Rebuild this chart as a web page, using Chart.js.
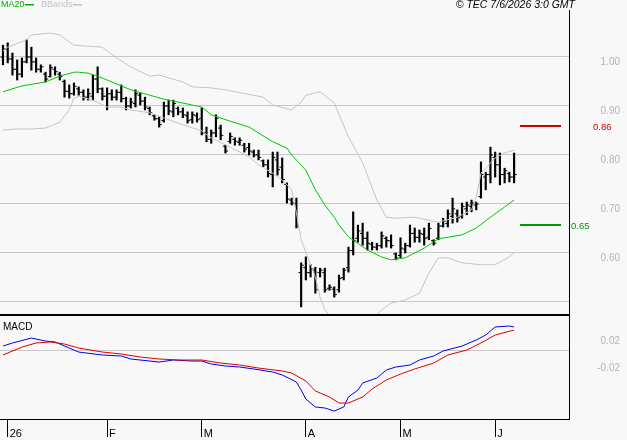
<!DOCTYPE html>
<html>
<head>
<meta charset="utf-8">
<script src="https://cdn.jsdelivr.net/npm/chart.js@4/dist/chart.umd.min.js"></script>
<style>
    body { margin: 0; background: #f8f8f8; }
    #wrap { position: relative; width: 627px; height: 440px; background: #f8f8f8; overflow: hidden; }
    #priceChart { position: absolute; left: 0; top: 0; }
    #macdChart { position: absolute; left: 0; top: 316px; }
</style>
</head>
<body>
<div id="wrap">
    <canvas id="priceChart" width="627" height="316"></canvas>
    <canvas id="macdChart" width="627" height="124"></canvas>
</div>
<script>
// Daily bars, one per trading session (index 0 = first bar of January)
const highs = [
    1.024, 1.029, 1.008, 0.994, 0.998, 1.035, 1.020, 0.998, 0.984, 0.969,
    0.984, 0.980, 0.969, 0.953, 0.943, 0.947, 0.939, 0.933, 0.935, 0.963,
    0.980, 0.937, 0.937, 0.933, 0.933, 0.943, 0.918, 0.916, 0.933, 0.927,
    0.918, 0.898, 0.882, 0.878, 0.908, 0.912, 0.912, 0.898, 0.896, 0.888,
    0.888, 0.886, 0.896, 0.857, 0.851, 0.882, 0.861, 0.820, 0.845, 0.835,
    0.835, 0.824, 0.824, 0.810, 0.810, 0.790, 0.790, 0.806, 0.806, 0.794,
    0.743, 0.712, 0.712, 0.580, 0.592, 0.576, 0.571, 0.569, 0.569, 0.535,
    0.531, 0.555, 0.569, 0.612, 0.684, 0.657, 0.661, 0.643, 0.622, 0.620,
    0.643, 0.633, 0.637, 0.600, 0.631, 0.620, 0.657, 0.651, 0.647, 0.651,
    0.661, 0.627, 0.661, 0.671, 0.688, 0.712, 0.688, 0.702, 0.704, 0.708,
    0.704, 0.786, 0.765, 0.816, 0.806, 0.804, 0.773, 0.765, 0.804
];
const lows = [
    0.984, 0.988, 0.963, 0.953, 0.959, 0.988, 0.973, 0.969, 0.969, 0.949,
    0.959, 0.963, 0.953, 0.918, 0.916, 0.922, 0.922, 0.912, 0.912, 0.912,
    0.927, 0.912, 0.892, 0.912, 0.912, 0.908, 0.892, 0.896, 0.898, 0.902,
    0.892, 0.882, 0.871, 0.857, 0.867, 0.882, 0.878, 0.882, 0.876, 0.865,
    0.865, 0.867, 0.841, 0.827, 0.824, 0.837, 0.831, 0.804, 0.824, 0.820,
    0.820, 0.806, 0.800, 0.796, 0.790, 0.776, 0.755, 0.735, 0.759, 0.743,
    0.702, 0.698, 0.651, 0.490, 0.545, 0.551, 0.518, 0.551, 0.520, 0.524,
    0.510, 0.520, 0.545, 0.561, 0.596, 0.622, 0.616, 0.606, 0.606, 0.606,
    0.610, 0.612, 0.610, 0.586, 0.590, 0.600, 0.612, 0.622, 0.622, 0.616,
    0.627, 0.616, 0.627, 0.653, 0.653, 0.661, 0.663, 0.671, 0.678, 0.684,
    0.688, 0.712, 0.729, 0.743, 0.755, 0.739, 0.743, 0.745, 0.743
];
const opens = [
    1.000, 1.016, 0.996, 0.975, 0.965, 0.990, 1.000, 0.990, 0.975, 0.965,
    0.960, 0.975, 0.965, 0.950, 0.930, 0.925, 0.935, 0.928, 0.918, 0.920,
    0.955, 0.935, 0.920, 0.925, 0.918, 0.928, 0.915, 0.900, 0.905, 0.922,
    0.910, 0.895, 0.880, 0.874, 0.870, 0.900, 0.888, 0.895, 0.888, 0.880,
    0.872, 0.880, 0.875, 0.845, 0.832, 0.845, 0.855, 0.818, 0.828, 0.832,
    0.826, 0.820, 0.815, 0.806, 0.800, 0.788, 0.780, 0.760, 0.790, 0.775,
    0.740, 0.708, 0.700, 0.560, 0.570, 0.560, 0.565, 0.560, 0.560, 0.528,
    0.526, 0.525, 0.550, 0.570, 0.605, 0.630, 0.640, 0.630, 0.618, 0.612,
    0.615, 0.630, 0.625, 0.598, 0.595, 0.608, 0.615, 0.640, 0.632, 0.638,
    0.632, 0.625, 0.630, 0.655, 0.660, 0.675, 0.680, 0.675, 0.690, 0.695,
    0.698, 0.715, 0.755, 0.760, 0.795, 0.780, 0.760, 0.762, 0.755
];
const closes = [
    1.016, 0.996, 0.975, 0.965, 0.990, 1.000, 0.990, 0.975, 0.980, 0.955,
    0.978, 0.970, 0.960, 0.930, 0.925, 0.940, 0.928, 0.918, 0.925, 0.955,
    0.935, 0.920, 0.925, 0.918, 0.928, 0.915, 0.900, 0.908, 0.925, 0.910,
    0.898, 0.886, 0.874, 0.862, 0.900, 0.890, 0.905, 0.888, 0.882, 0.870,
    0.882, 0.872, 0.845, 0.832, 0.845, 0.875, 0.840, 0.808, 0.838, 0.828,
    0.830, 0.812, 0.808, 0.800, 0.795, 0.780, 0.762, 0.795, 0.770, 0.750,
    0.710, 0.702, 0.655, 0.575, 0.560, 0.568, 0.525, 0.565, 0.525, 0.530,
    0.515, 0.548, 0.565, 0.605, 0.625, 0.645, 0.630, 0.620, 0.612, 0.615,
    0.635, 0.625, 0.615, 0.590, 0.610, 0.615, 0.640, 0.632, 0.640, 0.630,
    0.650, 0.620, 0.655, 0.665, 0.680, 0.690, 0.672, 0.695, 0.698, 0.702,
    0.700, 0.760, 0.760, 0.800, 0.780, 0.760, 0.768, 0.755, 0.760
];

// Indicator lines: [bar index, value]
const ma20Pts = [
    [0, 0.929], [4, 0.941], [9, 0.949], [12, 0.961], [15, 0.969], [16, 0.969], [18, 0.967],
    [20, 0.961], [23, 0.949], [27, 0.933], [31, 0.922], [34, 0.914], [37, 0.908], [42, 0.898],
    [44, 0.882], [48, 0.869], [52, 0.857], [57, 0.827], [60, 0.814], [61, 0.800], [64, 0.769],
    [66, 0.729], [68, 0.698], [70, 0.673], [71, 0.657], [73, 0.633], [77, 0.606], [80, 0.592],
    [82, 0.586], [85, 0.590], [89, 0.610], [92, 0.629], [97, 0.637], [100, 0.651], [103, 0.673],
    [106, 0.694], [108, 0.708]
];
const upperBandPts = [
    [0, 1.012], [1, 1.020], [5, 1.035], [6, 1.045], [10, 1.049], [12, 1.045], [15, 1.024],
    [21, 1.020], [24, 0.998], [27, 0.980], [31, 0.961], [33, 0.963], [38, 0.949], [40, 0.939],
    [44, 0.937], [47, 0.933], [55, 0.918], [57, 0.902], [61, 0.892], [63, 0.908], [64, 0.922],
    [67, 0.929], [70, 0.906], [73, 0.837], [76, 0.784], [79, 0.708], [81, 0.673], [83, 0.671],
    [87, 0.673], [90, 0.667], [92, 0.663], [96, 0.673], [99, 0.688], [100, 0.714], [101, 0.763],
    [104, 0.794], [106, 0.804], [108, 0.810]
];
const lowerBandPts = [
    [0, 0.851], [3, 0.853], [6, 0.853], [9, 0.855], [12, 0.867], [14, 0.892], [15, 0.916],
    [16, 0.920], [19, 0.912], [22, 0.898], [25, 0.898], [27, 0.892], [31, 0.886], [37, 0.865],
    [42, 0.849], [44, 0.835], [48, 0.816], [52, 0.796], [54, 0.780], [57, 0.763], [59, 0.749],
    [61, 0.729], [62, 0.682], [63, 0.627], [66, 0.551], [67, 0.510], [68, 0.484], [72, 0.440],
    [76, 0.445], [80, 0.484], [82, 0.498], [85, 0.504], [88, 0.518], [90, 0.559], [92, 0.590],
    [94, 0.590], [97, 0.580], [101, 0.576], [104, 0.576], [107, 0.592], [108, 0.602]
];
const macdPts = [
    [0, 0.0059], [2, 0.0104], [6, 0.0178], [9, 0.0133], [11, 0.0119], [14, 0.0030], [16, -0.0030],
    [21, -0.0074], [25, -0.0089], [27, -0.0133], [33, -0.0178], [36, -0.0148], [40, -0.0163],
    [42, -0.0163], [44, -0.0207], [47, -0.0237], [50, -0.0252], [53, -0.0281], [57, -0.0326],
    [59, -0.0370], [62, -0.0474], [63, -0.0593], [64, -0.0726], [66, -0.0844], [68, -0.0859],
    [70, -0.0904], [72, -0.0844], [73, -0.0696], [75, -0.0593], [76, -0.0489], [79, -0.0415],
    [81, -0.0296], [83, -0.0252], [86, -0.0222], [88, -0.0148], [91, -0.0089], [93, -0.0015],
    [97, 0.0059], [100, 0.0148], [102, 0.0222], [104, 0.0341], [107, 0.0356], [108, 0.0341]
];
const signalPts = [
    [0, -0.0074], [4, 0.0044], [7, 0.0104], [10, 0.0119], [13, 0.0089], [16, 0.0030], [21, -0.0030],
    [25, -0.0059], [29, -0.0104], [33, -0.0133], [37, -0.0148], [42, -0.0148], [46, -0.0193],
    [50, -0.0222], [54, -0.0267], [59, -0.0311], [61, -0.0341], [64, -0.0459], [66, -0.0607],
    [69, -0.0696], [71, -0.0785], [73, -0.0785], [76, -0.0696], [78, -0.0578], [81, -0.0444],
    [84, -0.0356], [87, -0.0281], [91, -0.0193], [94, -0.0074], [98, 0.0000], [101, 0.0104],
    [104, 0.0222], [108, 0.0296]
];

const priceTicks = [1.0, 0.9, 0.8, 0.7, 0.6, 0.5];
const priceTickLabels = ['1.00', '0.90', '0.80', '0.70', '0.60', ''];
const macdTicks = [0.02, 0, -0.02];
const macdTickLabels = ['0.02', '', '-0.02'];
const monthTickIdx = [1, 22, 42, 64, 84, 104];
const monthLabels = ['26', 'F', 'M', 'A', 'M', 'J'];
const levels = [0.86, 0.657];
const levelLabels = ['0.86', '0.65'];
const levelColors = ['#cc0000', '#009900'];

const xMin = -0.63, xMax = 119.6;

Chart.defaults.font.family = '"Liberation Sans", Arial, sans-serif';
Chart.defaults.animation = false;
Chart.defaults.responsive = false;
Chart.defaults.events = [];
Chart.defaults.plugins.legend.display = false;
Chart.defaults.plugins.tooltip.enabled = false;

const toXY = pts => pts.map(p => ({ x: p[0], y: p[1] }));

// keep the axis box a fixed size and stop label padding from shrinking the plot
function fixAxis(w, h) {
    return s => {
        if (w) s.width = w;
        if (h) s.height = h;
        s.paddingTop = 0;
        s.paddingBottom = 0;
        s.paddingLeft = 0;
        s.paddingRight = 0;
    };
}

// Legend, copyright line, bottom frame and the two level marks
const priceDecor = {
    id: 'priceDecor',
    afterDatasetsDraw(chart) {
        const ctx = chart.ctx;
        const area = chart.chartArea;
        const y = chart.scales.y;
        ctx.save();
        levels.forEach((lv, k) => {
            const py = Math.round(y.getPixelForValue(lv));
            ctx.fillStyle = levelColors[k];
            ctx.fillRect(area.right - 49, py - 1, 41, 2);
            ctx.font = '9.5px "Liberation Sans", Arial, sans-serif';
            ctx.textBaseline = 'middle';
            ctx.textAlign = 'left';
            ctx.fillText(levelLabels[k], k === 0 ? area.right + 24 : area.right + 2, py + 1);
        });
        ctx.restore();
    },
    afterDraw(chart) {
        const ctx = chart.ctx;
        const area = chart.chartArea;
        ctx.save();
        ctx.fillStyle = '#000';
        ctx.fillRect(0, area.bottom, area.right + 1, 2);

        ctx.textBaseline = 'middle';
        ctx.font = '9px "Liberation Sans", Arial, sans-serif';
        ctx.fillStyle = '#00b000';
        ctx.fillText('MA20', 1, 5);
        ctx.fillRect(25, 4, 9, 1.5);
        ctx.fillStyle = '#c4c4c4';
        ctx.fillText('BBands', 41, 5);
        ctx.fillRect(73, 4, 9, 1.5);

        ctx.fillStyle = '#000';
        ctx.font = 'italic 10.5px "Liberation Sans", Arial, sans-serif';
        ctx.textAlign = 'right';
        ctx.fillText('\u00a9 TEC 7/6/2026 3:0 GMT', 575, 5);
        ctx.restore();
    }
};

new Chart(document.getElementById('priceChart'), {
    type: 'bar',
    data: {
        datasets: [
            { type: 'line', label: 'BBands', data: toXY(upperBandPts), borderColor: '#c4c4c4', borderWidth: 1, pointRadius: 0 },
            { type: 'line', label: 'BBands low', data: toXY(lowerBandPts), borderColor: '#c4c4c4', borderWidth: 1, pointRadius: 0 },
            { type: 'line', label: 'MA20', data: toXY(ma20Pts), borderColor: '#00c800', borderWidth: 1, pointRadius: 0 },
            { type: 'bar', label: 'High-Low', data: highs.map((h, i) => ({ x: i, y: [lows[i], h] })),
              backgroundColor: '#000', barThickness: 1.5 },
            { type: 'line', label: 'Open', data: opens.map((o, i) => ({ x: i - 0.3, y: o })), showLine: false,
              pointStyle: 'line', pointRadius: 1.2, pointBorderWidth: 1, pointBorderColor: '#000' },
            { type: 'line', label: 'Close', data: closes.map((c, i) => ({ x: i + 0.3, y: c })), showLine: false,
              pointStyle: 'line', pointRadius: 1.2, pointBorderWidth: 1, pointBorderColor: '#000' }
        ]
    },
    options: {
        layout: { autoPadding: false, padding: { top: 10, right: 7, bottom: 2, left: 0 } },
        scales: {
            x: { type: 'linear', min: xMin, max: xMax, offset: false, display: false },
            y: {
                position: 'right',
                min: 0.4755,
                max: 1.0959,
                afterFit: fixAxis(51, 0),
                afterBuildTicks: s => { s.ticks = priceTicks.map(v => ({ value: v })); },
                grid: { color: '#c8c8c8', drawTicks: false },
                border: { color: '#000' },
                ticks: {
                    crossAlign: 'far',
                    padding: 31,
                    labelOffset: 5,
                    color: '#b4b4b4',
                    font: { size: 10 },
                    callback: v => priceTickLabels[priceTicks.indexOf(v)]
                }
            }
        }
    },
    plugins: [priceDecor]
});

const macdDecor = {
    id: 'macdDecor',
    afterDraw(chart) {
        const ctx = chart.ctx;
        ctx.save();
        ctx.fillStyle = '#000';
        ctx.font = '10px "Liberation Sans", Arial, sans-serif';
        ctx.textBaseline = 'middle';
        ctx.fillText('MACD', 3, 11);
        ctx.restore();
    }
};

new Chart(document.getElementById('macdChart'), {
    type: 'line',
    data: {
        datasets: [
            { label: 'Signal', data: toXY(signalPts), borderColor: '#dd0000', borderWidth: 1, pointRadius: 0 },
            { label: 'MACD', data: toXY(macdPts), borderColor: '#0000ee', borderWidth: 1, pointRadius: 0 }
        ]
    },
    options: {
        layout: { autoPadding: false, padding: { top: 0, right: 7, bottom: 0, left: 0 } },
        scales: {
            x: {
                type: 'linear', min: xMin, max: xMax, offset: false,
                afterBuildTicks: s => { s.ticks = monthTickIdx.map(v => ({ value: v })); },
                afterFit: fixAxis(0, 21),
                grid: { drawOnChartArea: false, tickLength: 18, color: '#000' },
                border: { color: '#000' },
                ticks: {
                    align: 'start',
                    padding: -10,
                    labelOffset: 2,
                    color: '#000',
                    font: { size: 11 },
                    autoSkip: false,
                    maxRotation: 0,
                    callback: v => monthLabels[monthTickIdx.indexOf(v)]
                }
            },
            y: {
                position: 'right',
                min: -0.1022,
                max: 0.0504,
                afterFit: fixAxis(51, 0),
                afterBuildTicks: s => { s.ticks = macdTicks.map(v => ({ value: v })); },
                grid: {
                    drawTicks: false,
                    color: c => (c.tick && c.tick.value === 0) ? '#c8c8c8' : 'rgba(0,0,0,0)'
                },
                border: { color: '#000' },
                ticks: {
                    crossAlign: 'far',
                    padding: 28,
                    labelOffset: 5,
                    color: '#b4b4b4',
                    font: { size: 10 },
                    callback: v => macdTickLabels[macdTicks.indexOf(v)]
                }
            }
        }
    },
    plugins: [macdDecor]
});
</script>
</body>
</html>
